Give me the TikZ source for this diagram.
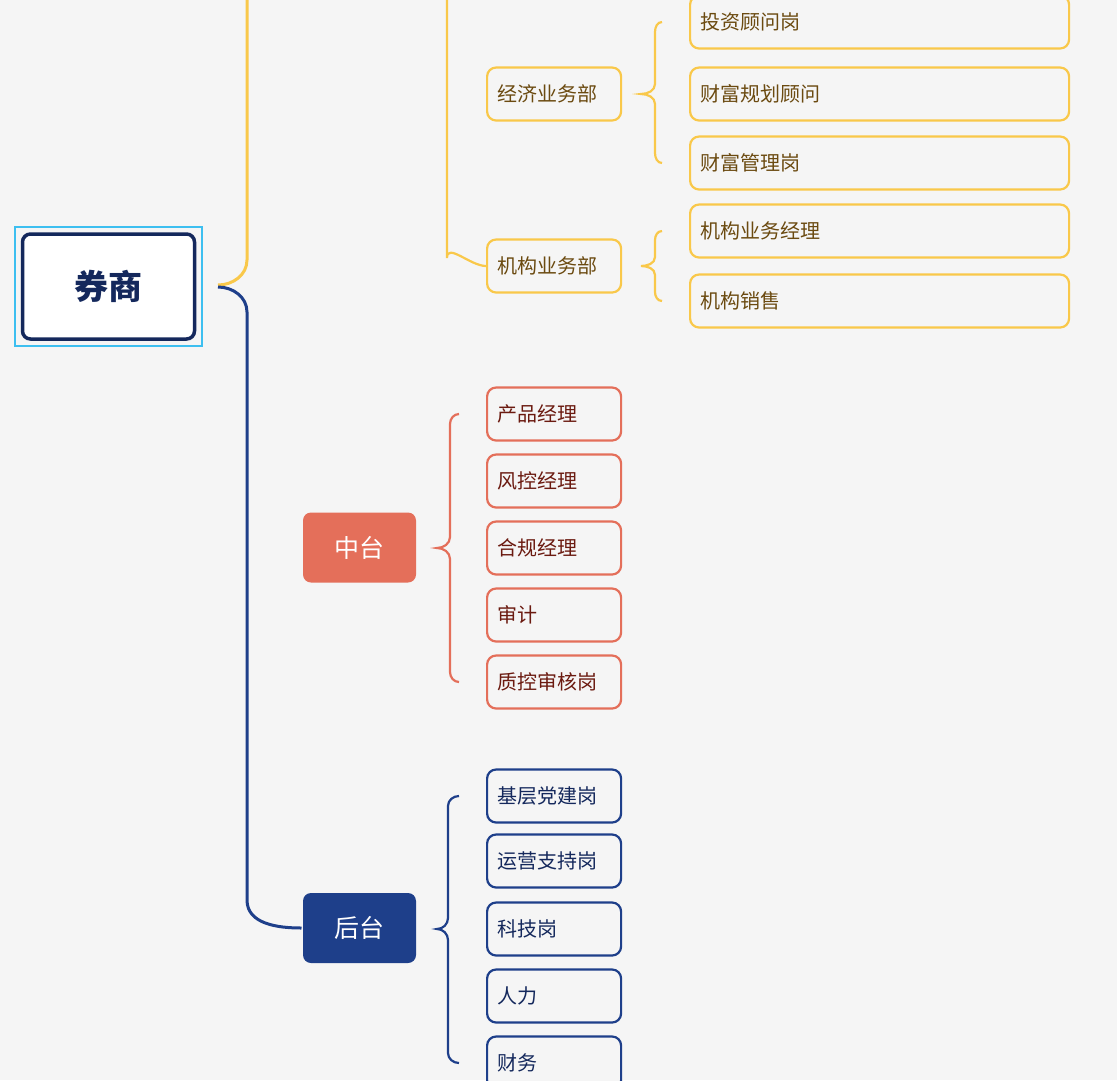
\documentclass[tikz,border=0pt]{standalone}
\usepackage{fontspec}
\setmainfont{Noto Sans CJK SC}
\usetikzlibrary{positioning}
\definecolor{bgc}{HTML}{F5F5F5}
\definecolor{ylw}{HTML}{F9C84A}
\definecolor{ylwtxt}{HTML}{6B4A10}
\definecolor{red}{HTML}{E46F5A}
\definecolor{redtxt}{HTML}{6B1A10}
\definecolor{navy}{HTML}{1E3F8A}
\definecolor{navytxt}{HTML}{14285C}
\definecolor{sky}{HTML}{3DBFF0}
\tikzset{leaf/.style={rectangle,rounded corners=9pt,draw,line width=2.2pt,fill=bgc,anchor=west,text width=#1,align=left,inner xsep=10pt,minimum height=53pt,font=\fontsize{20}{20}\selectfont}}
\tikzset{ybox/.style={leaf=114pt,draw=ylw,text=ylwtxt}}
\tikzset{ywide/.style={leaf=359pt,draw=ylw,text=ylwtxt}}
\tikzset{rbox/.style={leaf=114pt,draw=red,text=redtxt}}
\tikzset{nbox/.style={leaf=114pt,draw=navy,text=navytxt}}
\tikzset{hub/.style={rectangle,rounded corners=8pt,minimum width=113pt,minimum height=70pt,text=white,font=\fontsize{25}{25}\selectfont}}
\begin{document}
\begin{tikzpicture}[x=1pt,y=-1pt,line width=3pt]
  \fill[bgc] (0,0) rectangle (1117,1080);
  \useasboundingbox (0,0) rectangle (1117,1080);
  \clip (0,0) rectangle (1117,1080);
  % root
  \node[draw=sky,line width=2pt,minimum width=187pt,minimum height=119pt] (frame) at (108.5,286.5) {};
  \node[draw=navytxt,line width=3.5pt,rounded corners=8pt,fill=white,minimum width=172pt,minimum height=105pt,text=navytxt,font=\fontsize{34}{34}\selectfont\bfseries] (root) at (108.5,286.5) {券商};
  \coordinate (top) at (247,-5);
  \draw[ylw] (218,285) to[out=0,in=-90] (247,260) -- (top);
  % front
  \node[ybox] (jj) at (486,94) {经济业务部};
  \node[ybox] (jg) at (486,266) {机构业务部};
  \draw[ylw,line width=2.2pt] (447,-5) -- (447,258) to[out=90,in=180] (jg.west);
  \node[ywide] (tz) at (689,22) {投资顾问岗};
  \node[ywide] (cg) at (689,94) {财富规划顾问};
  \node[ywide] (cm) at (689,163) {财富管理岗};
  \node[ywide] (jl) at (689,231) {机构业务经理};
  \node[ywide] (xs) at (689,301) {机构销售};
  % middle
  \node[hub,fill=red] (mid) at (359.5,547.5) {中台};
  \foreach \t/\y/\n in {产品经理/414/m1,风控经理/481/m2,合规经理/548/m3,审计/615/m4,质控审核岗/682/m5}
    \node[rbox] (\n) at (486,\y) {\t};
  % back
  \node[hub,fill=navy] (back) at (359.5,928) {后台};
  \foreach \t/\y/\n in {基层党建岗/796/b1,运营支持岗/861/b2,科技岗/929/b3,人力/996/b4,财务/1063/b5}
    \node[nbox] (\n) at (486,\y) {\t};
  \draw[navy] (218,287) to[out=0,in=90] (247,312) -- (247,900) to[out=-90,in=180] (back.west);
  % braces
  \begin{scope}[line width=2.2pt]
    \draw[ylw] (tz.west) ++(-26,0) coordinate (a) (662,22) to[out=180,in=90] (655,32) -- (655,84) to[out=-90,in=0] (641,94) to[out=0,in=90] (655,104) -- (655,153) to[out=-90,in=180] (662,163);
    \draw[ylw] (662,231) to[out=180,in=90] (655,240) -- (655,257) to[out=-90,in=0] (641,266) to[out=0,in=90] (655,275) -- (655,292) to[out=-90,in=180] (662,301);
    \draw[red] (459,414) to[out=180,in=90] (450,424) -- (450,537) to[out=-90,in=0] (437,548) to[out=0,in=90] (450,559) -- (450,672) to[out=-90,in=180] (459,682);
    \draw[navy] (459,796) to[out=180,in=90] (448,806) -- (448,918) to[out=-90,in=0] (437,929) to[out=0,in=90] (448,940) -- (448,1053) to[out=-90,in=180] (459,1063);
  \end{scope}
\end{tikzpicture}
\end{document}
